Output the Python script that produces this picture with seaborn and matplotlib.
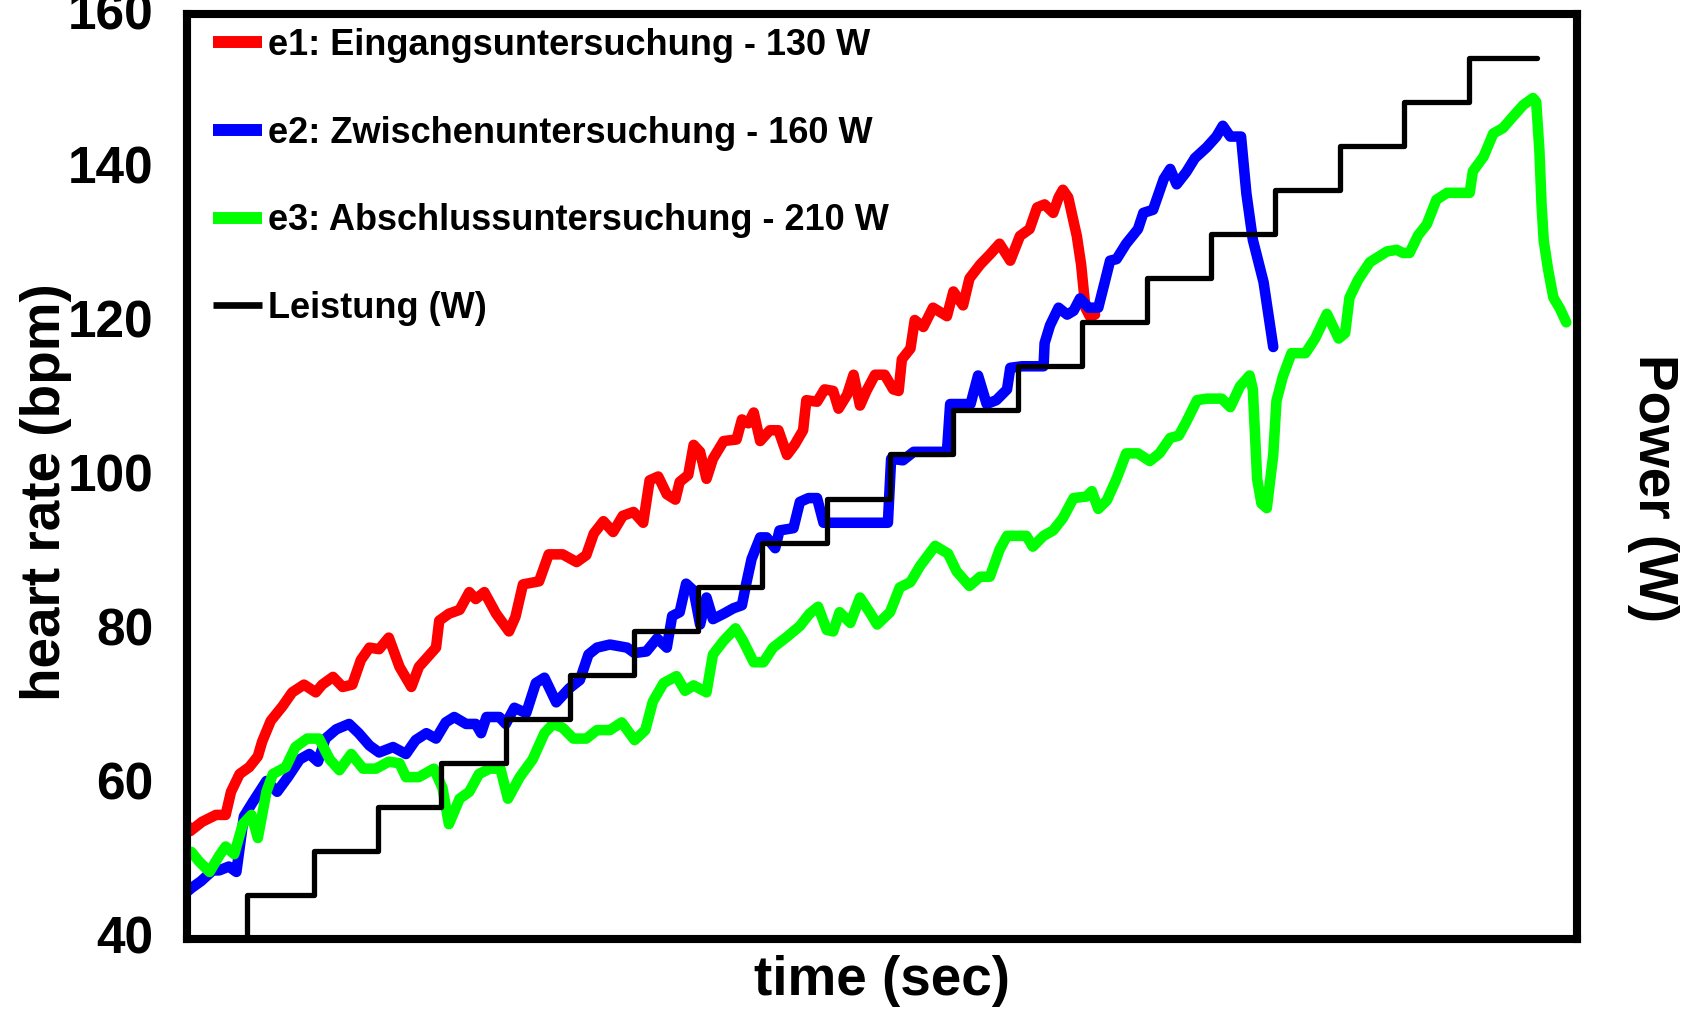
import matplotlib
matplotlib.use("Agg")
import matplotlib.pyplot as plt
import matplotlib.transforms as mtransforms
import seaborn as sns

# Heart rate during the step test, time in seconds
e1_time = [0, 4, 15, 28, 37, 42, 50, 59, 67, 71, 79, 90, 99, 110, 121, 127, 137, 146, 155, 163,
           171, 180, 189, 199, 210, 217, 233, 236, 245, 255, 264, 270, 278, 289, 301, 307, 314,
           329, 338, 351, 364, 373, 380, 389, 398, 407, 417, 426, 432, 440, 448, 456, 460, 468,
           473, 479, 485, 491, 501, 513, 518, 524, 529, 535, 544, 552, 560, 567, 575, 578, 588,
           595, 603, 608, 616, 622, 628, 634, 642, 651, 659, 664, 667, 675, 679, 687, 696, 709,
           715, 724, 730, 740, 749, 758, 768, 777, 786, 793, 800, 808, 813, 817, 822, 830, 834,
           838, 842, 847]
e1_hr = [55.0, 54.0, 55.2, 56.1, 56.1, 59.1, 61.4, 62.3, 63.7, 65.6, 68.3, 70.2, 72.0, 73.0, 72.0,
         73.0, 74.0, 72.7, 73.0, 76.2, 77.8, 77.6, 79.1, 75.3, 72.7, 75.3, 77.8, 81.3, 82.2, 82.7,
         85.0, 84.1, 85.0, 82.2, 79.9, 81.8, 86.0, 86.4, 89.9, 89.9, 88.9, 89.8, 92.6, 94.2, 92.8,
         94.9, 95.4, 94.0, 99.5, 100.0, 97.7, 97.0, 99.3, 100.2, 104.1, 103.2, 99.7, 102.3, 104.6,
         104.8, 107.4, 106.9, 108.3, 104.6, 106.0, 106.0, 102.8, 104.1, 106.0, 109.9, 109.7, 111.3,
         111.1, 108.8, 110.6, 113.2, 109.2, 111.1, 113.2, 113.2, 111.3, 111.1, 115.2, 116.6, 120.3,
         119.4, 121.9, 120.8, 124.0, 122.2, 125.7, 127.5, 128.8, 130.2, 128.0, 131.2, 132.1, 134.9,
         135.3, 134.2, 136.2, 137.2, 136.2, 131.2, 127.5, 121.9, 120.8, 121.0]

e2_time = [0, 5, 14, 25, 31, 40, 47, 54, 62, 75, 85, 95, 106, 115, 123, 130, 140, 152, 161, 171,
           180, 193, 205, 214, 224, 233, 242, 250, 261, 270, 275, 280, 292, 298, 306, 317, 326,
           334, 345, 357, 367, 375, 383, 395, 411, 418, 429, 439, 448, 453, 460, 466, 473, 479,
           485, 491, 501, 510, 518, 522, 527, 535, 541, 549, 553, 566, 572, 580, 588, 594, 603,
           628, 654, 657, 668, 678, 709, 712, 731, 738, 746, 755, 765, 768, 779, 799, 800, 805,
           813, 821, 827, 833, 841, 850, 856, 861, 867, 876, 887, 892, 901, 911, 917, 923, 932,
           940, 951, 960, 966, 973, 983, 988, 994, 1004, 1013]
e2_hr = [46.0, 46.6, 47.5, 48.9, 48.9, 49.4, 48.7, 55.9, 57.7, 60.5, 59.1, 61.0, 63.3, 64.0, 63.0,
         66.0, 67.2, 67.9, 66.7, 65.1, 64.2, 64.9, 64.0, 65.8, 66.7, 66.0, 68.1, 68.8, 67.9, 67.9,
         66.7, 68.8, 68.8, 67.9, 70.0, 69.3, 73.2, 73.9, 70.7, 72.5, 73.6, 76.9, 77.8, 78.2, 77.8,
         77.1, 77.3, 79.0, 77.8, 81.9, 82.4, 86.1, 85.2, 80.8, 84.3, 81.5, 82.2, 82.9, 83.3, 86.1,
         89.3, 92.1, 92.1, 90.7, 93.0, 93.3, 96.7, 97.2, 97.2, 94.0, 94.0, 94.0, 94.0, 102.3, 102.1,
         103.2, 103.2, 109.4, 109.4, 113.1, 109.4, 109.9, 111.3, 114.1, 114.3, 114.3, 117.3, 119.6,
         121.9, 121.0, 121.5, 123.1, 121.9, 121.9, 125.2, 128.0, 128.2, 130.2, 132.1, 134.2, 134.6,
         138.6, 139.9, 137.9, 139.5, 141.3, 142.7, 144.1, 145.5, 144.1, 144.1, 136.7, 130.7, 125.2,
         116.8]

e3_time = [0, 5, 12, 22, 31, 37, 45, 53, 61, 67, 75, 81, 93, 102, 113, 124, 134, 143, 154, 165,
           177, 189, 199, 205, 217, 231, 239, 245, 255, 264, 273, 283, 293, 300, 311, 323, 334,
           342, 351, 361, 373, 383, 395, 406, 418, 428, 435, 445, 457, 465, 473, 485, 491, 501,
           512, 519, 529, 538, 547, 560, 572, 581, 589, 597, 603, 609, 619, 628, 637, 644, 656,
           665, 675, 684, 698, 710, 718, 730, 740, 749, 758, 765, 783, 789, 799, 808, 817, 827,
           839, 844, 850, 858, 867, 876, 887, 898, 907, 917, 925, 932, 942, 951, 965, 973, 982,
           991, 994, 998, 1002, 1007, 1013, 1016, 1022, 1030, 1043, 1052, 1063, 1074, 1080, 1084,
           1092, 1103, 1119, 1128, 1134, 1140, 1148, 1156, 1165, 1175, 1196, 1199, 1209, 1218,
           1227, 1237, 1246, 1255, 1258, 1261, 1263, 1265, 1269, 1274, 1280, 1286]
e3_hr = [50.9, 51.3, 50.1, 48.7, 50.8, 52.0, 51.0, 54.9, 56.1, 53.1, 59.1, 61.4, 62.3, 64.9, 66.0,
         66.0, 63.3, 61.9, 64.0, 62.1, 62.1, 63.0, 62.8, 61.0, 61.0, 62.1, 59.6, 54.9, 58.2, 59.1,
         61.4, 62.1, 62.1, 58.2, 61.0, 63.3, 66.7, 67.9, 67.4, 66.0, 66.0, 67.1, 67.1, 68.1, 65.8,
         67.1, 70.8, 73.2, 74.1, 72.2, 72.9, 72.0, 76.9, 78.7, 80.3, 78.7, 75.9, 75.9, 77.8, 79.2,
         80.6, 82.2, 83.1, 80.1, 79.9, 82.4, 81.0, 84.3, 82.4, 80.8, 82.4, 85.6, 86.3, 88.4, 91.0,
         90.0, 87.7, 85.8, 87.0, 87.0, 90.5, 92.3, 92.3, 90.9, 92.3, 93.0, 94.6, 97.2, 97.4, 98.1,
         95.8, 96.9, 99.7, 103.0, 103.0, 102.0, 103.0, 105.0, 105.3, 107.1, 109.9, 110.1, 110.1,
         109.0, 111.7, 113.1, 111.3, 99.7, 96.5, 95.9, 102.8, 109.8, 113.0, 116.0, 116.0, 117.9,
         121.1, 117.9, 118.6, 123.2, 125.5, 127.8, 129.2, 129.4, 129.0, 129.0, 131.3, 132.7, 135.9,
         136.8, 136.8, 139.6, 141.5, 144.5, 145.2, 146.8, 148.2, 149.1, 148.6, 142.2, 135.2, 130.6,
         126.9, 123.2, 121.8, 120.0]

# Ergometer load: start time of each stage and its power
power_time = [0, 57, 119, 179, 238, 298, 358, 417, 477, 537, 597, 656, 715, 775, 835, 895, 955,
              1015, 1075, 1135, 1195, 1259]
power_watt = [10, 20, 30, 40, 50, 60, 70, 80, 90, 100, 110, 120, 130, 140, 150, 160, 170, 180,
              190, 200, 210, 210]

series_labels = ["e1: Eingangsuntersuchung - 130 W",
                 "e2: Zwischenuntersuchung - 160 W",
                 "e3: Abschlussuntersuchung - 210 W",
                 "Leistung (W)"]
hr_ticks = [40, 60, 80, 100, 120, 140, 160]

sns.set_theme(style="white")
plt.rcParams["font.family"] = ["Liberation Sans", "DejaVu Sans"]
plt.rcParams["font.weight"] = "bold"
for key in ("text.color", "axes.labelcolor", "xtick.color", "ytick.color", "axes.edgecolor"):
    plt.rcParams[key] = "black"

W, H = 1683, 1010
fig = plt.figure(figsize=(W / 100, H / 100), dpi=100)
fig.patch.set_facecolor("white")
ax = fig.add_axes([187 / W, 71 / H, 1390 / W, 925 / H])

hr_kw = dict(linewidth=7.6, estimator=None, sort=False,
             solid_joinstyle="round", solid_capstyle="round")
sns.lineplot(x=e1_time, y=e1_hr, color="#ff0000", ax=ax, **hr_kw)
sns.lineplot(x=e2_time, y=e2_hr, color="#0000ff", ax=ax, **hr_kw)
sns.lineplot(x=e3_time, y=e3_hr, color="#00ff00", ax=ax, **hr_kw)

ax.set_xlim(1, 1296)
ax.set_ylim(40, 160)
ax.set_xticks([])
ax.set_yticks(hr_ticks)
ax.tick_params(axis="y", length=0, pad=24, labelsize=37, labelcolor="black")

# Power on a hidden secondary scale
ax2 = ax.twinx()
sns.lineplot(x=power_time, y=power_watt, color="black", linewidth=3.8,
             drawstyle="steps-post", estimator=None, sort=False, ax=ax2)
ax2.set_ylim(10, 220)
ax2.set_yticks([])

for a in (ax, ax2):
    for s in a.spines.values():
        s.set_visible(True)
        s.set_color("black")
        s.set_linewidth(5.8)

ax.set_xlabel("time (sec)", fontsize=39.5, fontweight="bold", color="black")
ax.xaxis.label.set_verticalalignment("center")
ax.xaxis.set_label_coords(0.5, -0.0454)

ax.set_ylabel("heart rate (bpm)", fontsize=39.5, fontweight="bold", color="black")
ax.yaxis.label.set(va="center", ha="center", rotation_mode="default")
ax.yaxis.set_label_coords(-0.1015, 0.4835)

ax2.set_ylabel("Power (W)", fontsize=39.5, fontweight="bold", rotation=270, color="black")
ax2.yaxis.label.set(va="center", ha="center", rotation_mode="default")
ax2.yaxis.set_label_coords(1.0547, 0.4876)

handles = ax.get_lines()[:3] + ax2.get_lines()[:1]
leg = ax2.legend(handles, series_labels, loc="upper left", bbox_to_anchor=(0.0187, 0.985),
                 frameon=False, prop={"weight": "bold", "size": 26},
                 handlelength=1.36, handletextpad=0.17, labelspacing=1.46,
                 borderpad=0, borderaxespad=0, labelcolor="black")
for ln, lw in zip(leg.get_lines(), [8.6, 8.6, 8.6, 4.8]):
    ln.set_linewidth(lw)
    ln.set_solid_capstyle("butt")

# nudge the heart-rate tick labels up a little
lift = mtransforms.ScaledTranslation(0, 4 / 100, fig.dpi_scale_trans)
for tick in ax.yaxis.get_major_ticks():
    tick.label1.set_fontweight("bold")
    tick.label1.set_color("black")
    tick.label1.set_transform(tick.label1.get_transform() + lift)

fig.savefig("out.png", dpi=100)
